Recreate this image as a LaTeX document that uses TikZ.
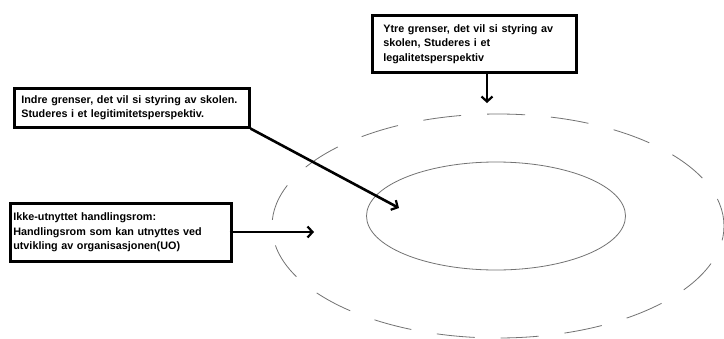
\documentclass[tikz,border=0pt]{standalone}
\usepackage{fontspec}
\setmainfont{Liberation Sans}
\usetikzlibrary{arrows.meta,shapes.geometric}
\begin{document}
\begin{tikzpicture}[x=1pt,y=-1pt,
  txtbox/.style={draw=black, line width=2.6pt, anchor=north west, align=left,
    font=\fontsize{10.8}{14.5}\selectfont\bfseries, inner ysep=3pt},
  conn/.style={draw=black, line width=2.6pt, -{Straight Barb[length=5pt,width=11pt,line width=2.2pt]}},
  ring/.style={draw=black!55, line width=0.8pt}
]
\useasboundingbox (0,0) rectangle (724,338);
\fill[white] (0,0) rectangle (724,338);
% ellipses
\node[ring, ellipse, minimum width=452pt, minimum height=224pt, inner sep=0pt,
  dash pattern=on 38pt off 26pt, dash phase=10pt] (outer) at (498,226) {};
\node[ring, ellipse, minimum width=259pt, minimum height=108pt, inner sep=0pt] (inner) at (496,216) {};
% boxes
\node[txtbox, text width=182pt, minimum height=57pt, inner xsep=11pt] (ytre) at (371,14)
  {Ytre grenser, det vil si styring av\\ skolen, Studeres i et\\ legalitetsperspektiv};
\node[txtbox, text width=221pt, minimum height=39pt, inner xsep=7pt] (indre) at (13,87)
  {\mbox{Indre grenser, det vil si styring av skolen.}\\ Studeres i et legitimitetsperspektiv.};
\node[txtbox, text width=215pt, minimum height=58pt, inner xsep=3pt] (ikke) at (9,202)
  {Ikke-utnyttet handlingsrom:\\ Handlingsrom som kan utnyttes ved\\ utvikling av organisasjonen(UO)};
% arrow ends
\coordinate (ytreend) at (487,103);
\coordinate (indreend) at (399,208);
\coordinate (ikkeend) at (314,232);
\draw[conn] (ytre.south -| ytreend) -- (ytreend);
\draw[conn] (indre.south east) -- (indreend);
\draw[conn] ([xshift=-3pt]ikke.east |- ikkeend) -- (ikkeend);
\end{tikzpicture}
\end{document}
